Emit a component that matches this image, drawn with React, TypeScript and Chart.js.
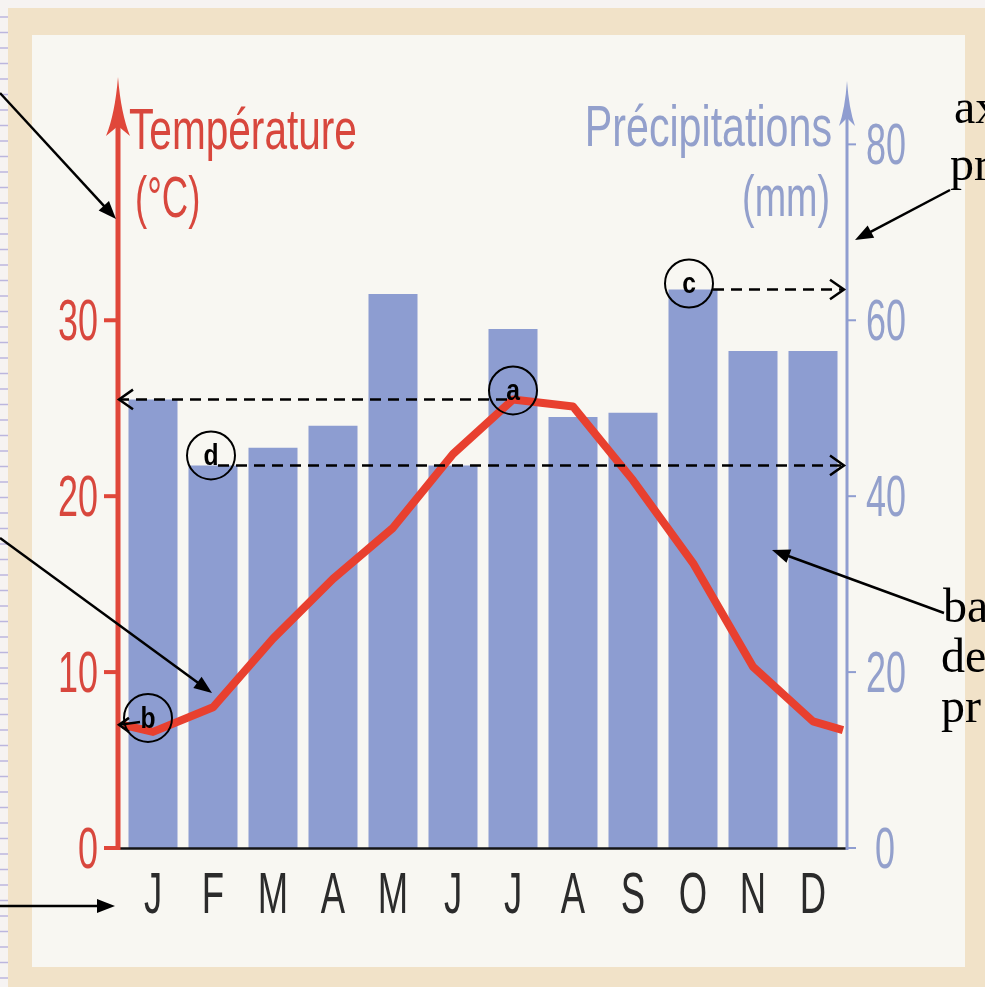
import React, { useEffect, useRef } from 'react';
import { Chart, registerables } from 'chart.js';

Chart.register(...registerables);

// ---- data ----
const MONTHS = ['J', 'F', 'M', 'A', 'M', 'J', 'J', 'A', 'S', 'O', 'N', 'D'];
const PRECIPITATION_MM = [51, 43.5, 45.5, 48, 63, 43.5, 59, 49, 49.5, 63.5, 56.5, 56.5];
const TEMPERATURE_C = [6.6, 8.0, 11.9, 15.3, 18.2, 22.4, 25.5, 25.1, 20.9, 16.2, 10.3, 7.2];
const TEMP_EDGE_START = 7.0; // where the curve meets the left axis
const TEMP_EDGE_END = 6.7; // where the curve meets the right axis
const TEMP_TICKS = [0, 10, 20, 30];
const PRECIP_TICKS = [0, 20, 40, 60, 80];
const TEMP_MAX = 44;
const PRECIP_MAX = 88;

const TITLE_TEMP = ['Température', '(°C)'];
const TITLE_PRECIP = ['Précipitations', '(mm)'];

// ---- styles ----
const RED = '#e0473a';
const RED_TEXT = '#d8473d';
const LINE_RED = '#e8402f';
const BLUE = '#8d9dd1';
const BLUE_AXIS = '#8f9dd0';
const BLUE_TEXT = '#93a0cc';
const SANS = '"Liberation Sans", Arial, sans-serif';
const SERIF = '"Liberation Serif", "Times New Roman", serif';

function condensedText(
  ctx: CanvasRenderingContext2D,
  text: string,
  x: number,
  y: number,
  size: number,
  color: string,
  sx: number,
  align: CanvasTextAlign,
  family = SANS,
  weight = 'normal'
) {
  ctx.save();
  ctx.font = `${weight} ${size}px ${family}`;
  ctx.fillStyle = color;
  ctx.textAlign = align;
  ctx.textBaseline = 'alphabetic';
  ctx.translate(x, y);
  ctx.scale(sx, 1);
  ctx.fillText(text, 0, 0);
  ctx.restore();
}

function solidArrow(ctx: CanvasRenderingContext2D, x1: number, y1: number, x2: number, y2: number) {
  const ang = Math.atan2(y2 - y1, x2 - x1);
  const head = 18;
  const half = 7;
  const c = Math.cos(ang);
  const s = Math.sin(ang);
  ctx.save();
  ctx.strokeStyle = '#000';
  ctx.fillStyle = '#000';
  ctx.lineWidth = 2.5;
  ctx.beginPath();
  ctx.moveTo(x1, y1);
  ctx.lineTo(x2 - c * head * 0.8, y2 - s * head * 0.8);
  ctx.stroke();
  ctx.beginPath();
  ctx.moveTo(x2, y2);
  ctx.lineTo(x2 - c * head - s * half, y2 - s * head + c * half);
  ctx.lineTo(x2 - c * head + s * half, y2 - s * head - c * half);
  ctx.closePath();
  ctx.fill();
  ctx.restore();
}

function chevron(ctx: CanvasRenderingContext2D, x: number, y: number, dir: number, len = 14) {
  ctx.save();
  ctx.setLineDash([]);
  ctx.strokeStyle = '#000';
  ctx.lineWidth = 2.5;
  ctx.beginPath();
  ctx.moveTo(x - dir * len, y - len * 0.7);
  ctx.lineTo(x, y);
  ctx.lineTo(x - dir * len, y + len * 0.7);
  ctx.stroke();
  ctx.restore();
}

function dashedArrow(ctx: CanvasRenderingContext2D, x1: number, x2: number, y: number) {
  ctx.save();
  ctx.strokeStyle = '#000';
  ctx.lineWidth = 2.5;
  ctx.setLineDash([11, 7]);
  ctx.beginPath();
  ctx.moveTo(x1, y);
  ctx.lineTo(x2, y);
  ctx.stroke();
  ctx.restore();
  chevron(ctx, x2, y, x2 > x1 ? 1 : -1);
}

function circledLetter(ctx: CanvasRenderingContext2D, letter: string, cx: number, cy: number) {
  ctx.save();
  ctx.strokeStyle = '#000';
  ctx.lineWidth = 2;
  ctx.beginPath();
  ctx.ellipse(cx, cy, 24, 24, 0, 0, Math.PI * 2);
  ctx.stroke();
  ctx.restore();
  condensedText(ctx, letter, cx, cy + 10, 29, '#000', 0.85, 'center', SANS, 'bold');
}

const decorPlugin = {
  id: 'climateDecor',
  beforeDraw(chart: any) {
    const ctx: CanvasRenderingContext2D = chart.ctx;
    const W = chart.width;
    const H = chart.height;
    ctx.save();
    ctx.fillStyle = '#f6f3f2';
    ctx.fillRect(0, 0, W, H);
    // beige frame of the scanned page
    ctx.fillStyle = '#f1e2c8';
    ctx.fillRect(8, 8, W - 8, 27);
    ctx.fillRect(8, 8, 24, H - 8);
    ctx.fillRect(965, 8, W - 965, H - 8);
    ctx.fillRect(8, 967, W - 8, H - 967);
    // inner panel
    ctx.fillStyle = '#f8f7f2';
    ctx.fillRect(32, 35, 965 - 32, 967 - 35);
    // notebook lines on the far left
    ctx.strokeStyle = '#bcb6de';
    ctx.lineWidth = 1.5;
    for (let y = 17; y < H; y += 15.5) {
      ctx.beginPath();
      ctx.moveTo(0, y);
      ctx.lineTo(8, y);
      ctx.stroke();
    }
    ctx.restore();
  },
  afterDatasetsDraw(chart: any) {
    const ctx: CanvasRenderingContext2D = chart.ctx;
    const area = chart.chartArea;
    const xS = chart.scales.x;
    const yT = chart.scales.yT;
    const yP = chart.scales.yP;
    const axL = area.left - 5;
    const axR = area.right + 4;
    const y0 = yT.getPixelForValue(0);

    ctx.save();
    // black baseline
    ctx.strokeStyle = '#151515';
    ctx.lineWidth = 2.5;
    ctx.beginPath();
    ctx.moveTo(axL, y0 + 0.5);
    ctx.lineTo(axR, y0 + 0.5);
    ctx.stroke();

    // red temperature axis
    ctx.strokeStyle = RED;
    ctx.lineWidth = 5;
    ctx.beginPath();
    ctx.moveTo(axL, y0 + 2);
    ctx.lineTo(axL, area.top + 45);
    ctx.stroke();
    ctx.fillStyle = RED;
    ctx.beginPath();
    ctx.moveTo(axL, area.top + 3);
    ctx.quadraticCurveTo(axL + 3, area.top + 40, axL + 12, area.top + 62);
    ctx.lineTo(axL, area.top + 52);
    ctx.lineTo(axL - 12, area.top + 62);
    ctx.quadraticCurveTo(axL - 3, area.top + 40, axL, area.top + 3);
    ctx.fill();
    for (const t of yT.ticks) {
      const y = yT.getPixelForValue(t.value);
      ctx.fillRect(axL - 14, y - 2, 14, 4);
      condensedText(ctx, String(t.value), axL - 20, y + 20, 58, RED_TEXT, 0.62, 'right');
    }

    // blue precipitation axis
    ctx.strokeStyle = BLUE_AXIS;
    ctx.lineWidth = 3;
    ctx.beginPath();
    ctx.moveTo(axR, y0 + 2);
    ctx.lineTo(axR, area.top + 40);
    ctx.stroke();
    ctx.fillStyle = BLUE_AXIS;
    ctx.beginPath();
    ctx.moveTo(axR, area.top + 7);
    ctx.quadraticCurveTo(axR + 2, area.top + 35, axR + 8, area.top + 52);
    ctx.lineTo(axR, area.top + 44);
    ctx.lineTo(axR - 8, area.top + 52);
    ctx.quadraticCurveTo(axR - 2, area.top + 35, axR, area.top + 7);
    ctx.fill();
    ctx.lineWidth = 2;
    for (const t of yP.ticks) {
      const y = yP.getPixelForValue(t.value);
      ctx.beginPath();
      ctx.moveTo(axR, y);
      ctx.lineTo(axR + 9, y);
      ctx.stroke();
      const lx = t.value < 10 ? axR + 28 : axR + 19;
      condensedText(ctx, String(t.value), lx, y + 20, 58, BLUE_TEXT, 0.62, 'left');
    }

    // month labels
    chart.data.labels.forEach((m: string, i: number) => {
      condensedText(ctx, m, xS.getPixelForValue(i), y0 + 65, 57, '#2b2b2b', 0.64, 'center');
    });

    // titles
    condensedText(ctx, TITLE_TEMP[0], area.left + 6, 149, 58, RED_TEXT, 0.7, 'left');
    condensedText(ctx, TITLE_TEMP[1], area.left + 12, 217, 58, RED_TEXT, 0.63, 'left');
    condensedText(ctx, TITLE_PRECIP[0], area.right - 11, 146, 58, BLUE_TEXT, 0.71, 'right');
    condensedText(ctx, TITLE_PRECIP[1], area.right - 13, 216, 58, BLUE_TEXT, 0.65, 'right');

    // ---- annotations ----
    // a : July temperature read on the left axis
    const xJul = xS.getPixelForValue(6);
    const yA = yT.getPixelForValue(TEMPERATURE_C[6]);
    dashedArrow(ctx, xJul - 6, axL + 1, yA);
    circledLetter(ctx, 'a', xJul, yA - 9);

    // b : January temperature
    const yB = yT.getPixelForValue(TEMPERATURE_C[0]);
    const bx = xS.getPixelForValue(0) - 5;
    circledLetter(ctx, 'b', bx, yB - 14);
    ctx.save();
    ctx.strokeStyle = '#000';
    ctx.lineWidth = 2.5;
    ctx.beginPath();
    ctx.moveTo(bx - 8, yB - 10);
    ctx.lineTo(axL + 1, yT.getPixelForValue(TEMP_EDGE_START));
    ctx.stroke();
    ctx.restore();
    chevron(ctx, axL + 1, yT.getPixelForValue(TEMP_EDGE_START), -1, 10);

    // c : October precipitation
    const xOct = xS.getPixelForValue(9);
    const yC = yP.getPixelForValue(PRECIPITATION_MM[9]);
    circledLetter(ctx, 'c', xOct - 4, yC - 6);
    dashedArrow(ctx, xOct + 20, axR - 3, yC);

    // d : February precipitation
    const xFeb = xS.getPixelForValue(1);
    const yD = yP.getPixelForValue(PRECIPITATION_MM[1]);
    circledLetter(ctx, 'd', xFeb - 2, yD - 10);
    dashedArrow(ctx, xFeb + 5, axR - 3, yD);

    // solid pointer arrows
    solidArrow(ctx, 0, 93, axL - 2, 219);
    solidArrow(ctx, 0, 538, 212, 693);
    solidArrow(ctx, 0, 906, 115, 906);
    solidArrow(ctx, 950, 190, 855, 240);
    solidArrow(ctx, 944, 613, 772, 550);

    // cropped captions on the right
    condensedText(ctx, 'ax', 954, 123, 48, '#000', 1, 'left', SERIF);
    condensedText(ctx, 'pr', 950, 180, 48, '#000', 1, 'left', SERIF);
    condensedText(ctx, 'ba', 943, 622, 48, '#000', 1, 'left', SERIF);
    condensedText(ctx, 'de', 941, 672, 48, '#000', 1, 'left', SERIF);
    condensedText(ctx, 'pr', 941, 722, 48, '#000', 1, 'left', SERIF);
    ctx.restore();
  },
};

export default function App() {
  const ref = useRef<HTMLCanvasElement | null>(null);

  useEffect(() => {
    if (!ref.current) return;
    const lineData = [
      { x: -0.5, y: TEMP_EDGE_START },
      ...TEMPERATURE_C.map((t, i) => ({ x: i, y: t })),
      { x: 11.5, y: TEMP_EDGE_END },
    ];
    const chart = new Chart(ref.current, {
      type: 'bar',
      data: {
        labels: MONTHS,
        datasets: [
          {
            type: 'line',
            label: 'Température',
            data: lineData as any,
            xAxisID: 'xLine',
            yAxisID: 'yT',
            borderColor: LINE_RED,
            borderWidth: 8,
            pointRadius: 0,
            tension: 0,
            borderJoinStyle: 'round',
            borderCapStyle: 'butt',
            clip: false as any,
            order: 0,
          } as any,
          {
            type: 'bar',
            label: 'Précipitations',
            data: PRECIPITATION_MM,
            xAxisID: 'x',
            yAxisID: 'yP',
            backgroundColor: BLUE,
            barPercentage: 0.817,
            categoryPercentage: 1,
            grouped: false,
            order: 1,
          } as any,
        ],
      },
      options: {
        responsive: false,
        animation: false,
        devicePixelRatio: 1,
        layout: { padding: { left: 123, right: 142, top: 74, bottom: 139 } },
        plugins: { legend: { display: false }, tooltip: { enabled: false } },
        scales: {
          x: { type: 'category', display: false, offset: true },
          xLine: {
            type: 'linear',
            display: false,
            offset: false,
            grid: { offset: false },
            min: -0.5,
            max: 11.5,
          },
          yT: {
            type: 'linear',
            display: false,
            min: 0,
            max: TEMP_MAX,
            afterBuildTicks: (s: any) => {
              s.ticks = TEMP_TICKS.map((v) => ({ value: v }));
            },
          },
          yP: {
            type: 'linear',
            display: false,
            min: 0,
            max: PRECIP_MAX,
            afterBuildTicks: (s: any) => {
              s.ticks = PRECIP_TICKS.map((v) => ({ value: v }));
            },
          },
        },
      } as any,
      plugins: [decorPlugin],
    });
    return () => chart.destroy();
  }, []);

  return (
    <div style={{ position: 'fixed', left: 0, top: 0, width: 985, height: 987 }}>
      <canvas ref={ref} width={985} height={987} style={{ display: 'block' }} />
    </div>
  );
}
